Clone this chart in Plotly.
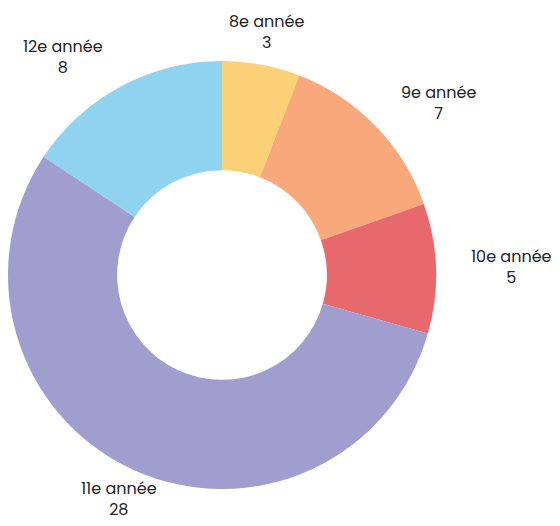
import math
import plotly.graph_objects as go

labels = ["8e année", "9e année", "10e année", "11e année", "12e année"]
values = [3, 7, 5, 28, 8]
colors = ["#FCD077", "#F8A87A", "#E8696D", "#A09ECE", "#8FD3F1"]

OFF = 8                            # page body margin of the browser
W, H = 560 - OFF, 526 - OFF        # figure fits the window inside the body margin
cx, cy, r = 222 - OFF, 275 - OFF, 214   # pie centre and outer radius (px)
label_r = 247                      # radius of the label anchor points

fig = go.Figure(go.Pie(
    labels=labels,
    values=values,
    hole=0.49,
    sort=False,
    direction="clockwise",
    rotation=0,
    domain=dict(x=[max(0, (cx - r) / W), (cx + r) / W],
                y=[(H - cy - r) / H, (H - cy + r) / H]),
    marker=dict(colors=colors, line=dict(color="white", width=0)),
    textinfo="none",
    hoverinfo="label+value",
    showlegend=False,
))

total = sum(values)
cum = 0
annotations = []
for lab, val in zip(labels, values):
    mid = (cum + val / 2) / total * 2 * math.pi
    cum += val
    s, c = math.sin(mid), math.cos(mid)
    px = cx + label_r * s
    py = cy - label_r * c
    if abs(s) < 0.45:
        xa = "center"
    elif s > 0:
        xa = "left"
    else:
        xa = "right"
    annotations.append(dict(
        x=px / W, y=1 - py / H, xref="paper", yref="paper",
        text=f"{lab}<br>{val}", showarrow=False,
        xanchor=xa, yanchor="middle", align="center",
        font=dict(family="Poppins, Inter, sans-serif", size=16, color="#222"),
    ))

fig.update_layout(
    width=W, height=H,
    margin=dict(l=0, r=0, t=0, b=0),
    paper_bgcolor="white",
    annotations=annotations,
)
fig.write_html("out.html")
